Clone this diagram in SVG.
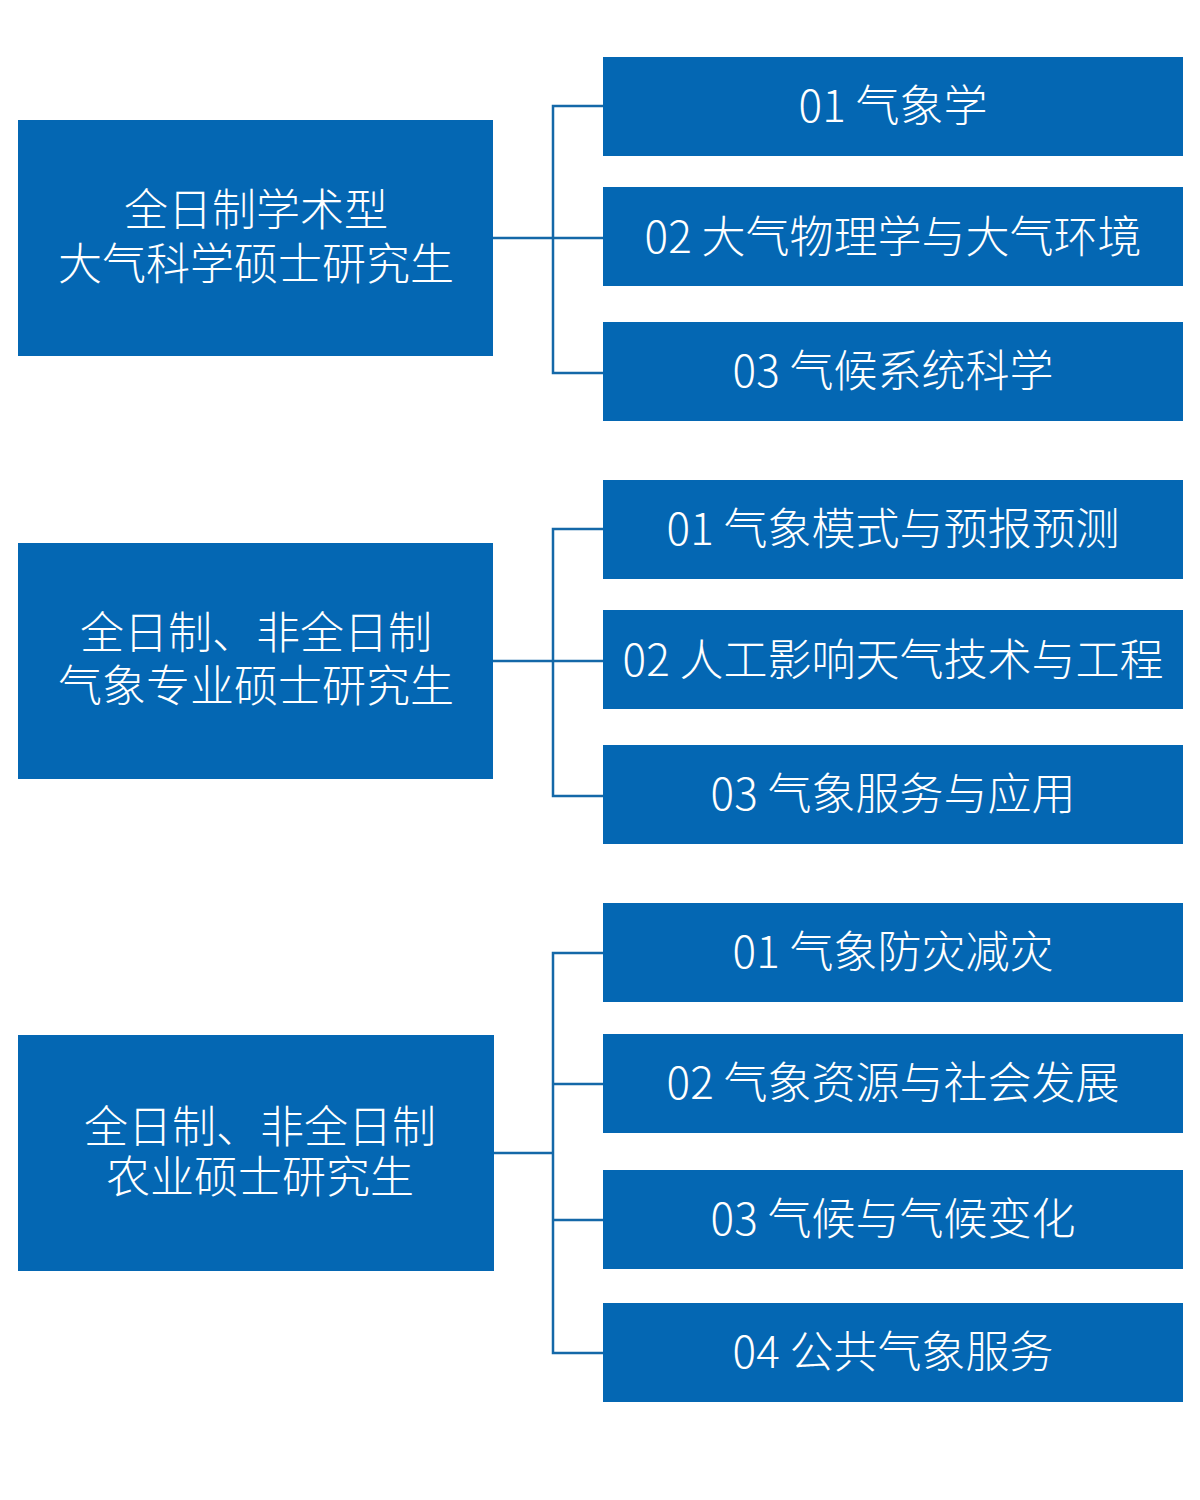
<svg xmlns="http://www.w3.org/2000/svg" width="1200" height="1500" viewBox="0 0 1200 1500">
<style>
.box{fill:#0467B3;}
.t{fill:#ffffff;font-family:"Noto Sans CJK SC","Noto Sans",sans-serif;font-size:44px;font-weight:300;text-anchor:middle;dominant-baseline:central;}
.c{fill:none;stroke:#1468A8;stroke-width:2.5;}
</style>
<rect width="1200" height="1500" fill="#ffffff"/>
<g id="connectors">
<path class="c" d="M493 238H553M603 106H553V373H603M553 238H603"/>
<path class="c" d="M493 661H553M603 529H553V796H603M553 661H603"/>
<path class="c" d="M493 1153H553M603 953H553V1353H603M553 1084H603M553 1220H603"/>
</g>
<g id="g1">
<rect class="box" x="18" y="120" width="475" height="236"/>
<text class="t" x="256" y="207">全日制学术型</text>
<text class="t" x="256" y="261">大气科学硕士研究生</text>
</g>
<g id="g1a"><rect class="box" x="603" y="57" width="580" height="99"/><text class="t" x="893" y="103">01 气象学</text></g>
<g id="g1b"><rect class="box" x="603" y="187" width="580" height="99"/><text class="t" x="893" y="234">02 大气物理学与大气环境</text></g>
<g id="g1c"><rect class="box" x="603" y="322" width="580" height="99"/><text class="t" x="893" y="368">03 气候系统科学</text></g>
<g id="g2">
<rect class="box" x="18" y="543" width="475" height="236"/>
<text class="t" x="256" y="630">全日制、非全日制</text>
<text class="t" x="256" y="683">气象专业硕士研究生</text>
</g>
<g id="g2a"><rect class="box" x="603" y="480" width="580" height="99"/><text class="t" x="893" y="526">01 气象模式与预报预测</text></g>
<g id="g2b"><rect class="box" x="603" y="610" width="580" height="99"/><text class="t" x="893" y="657">02 人工影响天气技术与工程</text></g>
<g id="g2c"><rect class="box" x="603" y="745" width="580" height="99"/><text class="t" x="893" y="791">03 气象服务与应用</text></g>
<g id="g3">
<rect class="box" x="18" y="1035" width="476" height="236"/>
<text class="t" x="260" y="1124">全日制、非全日制</text>
<text class="t" x="260" y="1174">农业硕士研究生</text>
</g>
<g id="g3a"><rect class="box" x="603" y="903" width="580" height="99"/><text class="t" x="893" y="949">01 气象防灾减灾</text></g>
<g id="g3b"><rect class="box" x="603" y="1034" width="580" height="99"/><text class="t" x="893" y="1080">02 气象资源与社会发展</text></g>
<g id="g3c"><rect class="box" x="603" y="1170" width="580" height="99"/><text class="t" x="893" y="1216">03 气候与气候变化</text></g>
<g id="g3d"><rect class="box" x="603" y="1303" width="580" height="99"/><text class="t" x="893" y="1349">04 公共气象服务</text></g>
</svg>
